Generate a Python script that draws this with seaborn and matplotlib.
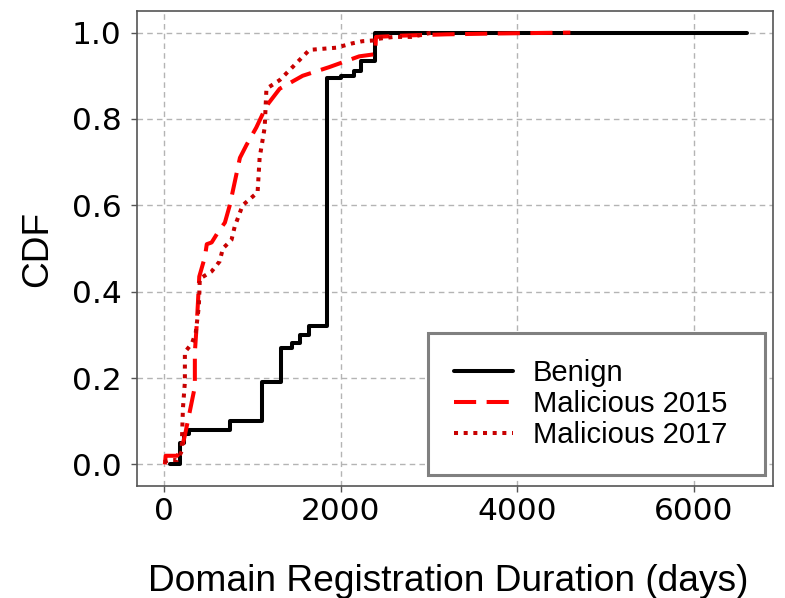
import matplotlib
matplotlib.use("Agg")
import matplotlib.pyplot as plt
import seaborn as sns

# CDF of domain registration duration (days) for each group
benign_days = [68, 180, 180, 230, 230, 285, 285, 745, 745, 1105, 1105, 1330, 1330,
               1450, 1535, 1535, 1647, 1647, 1850, 1850, 2000, 2150, 2233, 2233,
               2390, 2390, 6600]
benign_cdf = [0.0, 0.0, 0.05, 0.05, 0.07, 0.07, 0.08, 0.09, 0.10, 0.11, 0.19, 0.20,
              0.27, 0.28, 0.29, 0.30, 0.31, 0.32, 0.32, 0.895, 0.90, 0.91, 0.91, 0.935,
              0.94, 1.0, 1.0]

mal2015_days = [10, 20, 150, 190, 205, 240, 290, 350, 350, 370, 385, 400, 463, 485,
                540, 610, 690, 745, 860, 935, 1045, 1160, 1310, 1570, 1870, 2210,
                2390, 2400, 2700, 3200, 3800, 4600]
mal2015_cdf = [0.0, 0.02, 0.02, 0.03, 0.04, 0.07, 0.12, 0.18, 0.26, 0.32, 0.375, 0.435,
               0.48, 0.51, 0.514, 0.537, 0.56, 0.60, 0.71, 0.74, 0.78, 0.83, 0.87,
               0.90, 0.92, 0.945, 0.95, 0.99, 0.993, 0.996, 0.998, 1.0]

mal2017_days = [0, 60, 150, 200, 215, 237, 237, 316, 360, 395, 406, 540, 630, 667,
                765, 800, 890, 1060, 1083, 1140, 1160, 1310, 1455, 1647, 1950, 2130,
                2245, 2390, 2400, 2600, 2800, 3035]
mal2017_cdf = [0.005, 0.01, 0.01, 0.03, 0.13, 0.19, 0.26, 0.28, 0.305, 0.366, 0.43,
               0.447, 0.47, 0.50, 0.52, 0.55, 0.60, 0.63, 0.71, 0.78, 0.87, 0.89,
               0.92, 0.96, 0.965, 0.975, 0.98, 0.982, 0.985, 0.99, 0.99, 1.0]

series_labels = ["Benign", "Malicious 2015", "Malicious 2017"]

LABEL_FONT = ["Liberation Sans", "DejaVu Sans"]

sns.set_style("white")
plt.rcParams["font.family"] = ["DejaVu Sans"]
plt.rcParams["text.color"] = "black"
plt.rcParams["axes.labelcolor"] = "black"

fig = plt.figure(figsize=(7.85, 5.98), dpi=100)
ax = fig.add_axes([0.1745, 0.1873, 0.8102, 0.7943])

sns.lineplot(x=benign_days, y=benign_cdf, ax=ax, sort=False, estimator=None,
             color="black", linewidth=2.9, drawstyle="steps-post",
             label=series_labels[0], zorder=3)
sns.lineplot(x=mal2015_days, y=mal2015_cdf, ax=ax, sort=False, estimator=None,
             color="#ff0000", linewidth=2.9, linestyle=(0, (5.5, 2.6)),
             label=series_labels[1], zorder=4)
sns.lineplot(x=mal2017_days, y=mal2017_cdf, ax=ax, sort=False, estimator=None,
             color="#c80000", linewidth=2.9, linestyle=(0, (1.0, 1.4)),
             label=series_labels[2], zorder=5)

ax.set_xlim(-305, 6893)
ax.set_ylim(-0.05, 1.05)
ax.set_xticks([0, 2000, 4000, 6000])
ax.set_yticks([0.0, 0.2, 0.4, 0.6, 0.8, 1.0])
ax.set_yticklabels(["0.0", "0.2", "0.4", "0.6", "0.8", "1.0"])

ax.grid(True, linestyle=(0, (4, 3)), color="#b4b4b4", linewidth=1.0)
ax.set_axisbelow(True)

for s in ax.spines.values():
    s.set_color("#555555")
    s.set_linewidth(1.2)

ax.tick_params(axis="both", which="major", labelsize=22.5, length=4, width=1.0,
               color="#555555", direction="out", left=True, bottom=True,
               labelcolor="black")
ax.tick_params(axis="y", pad=7)
ax.tick_params(axis="x", pad=4)

ax.set_xlabel("Domain Registration Duration (days)", fontsize=26.7,
              family=LABEL_FONT, labelpad=27)
ax.xaxis.label.set_x(0.489)
ax.set_ylabel("CDF", fontsize=26.7, family=LABEL_FONT, labelpad=12)

# legend box stretched across a fixed region in the lower right
leg = ax.legend(loc="lower left", bbox_to_anchor=(0.4575, 0.023, 0.530, 0.30),
                mode="expand", borderaxespad=0,
                prop={"family": LABEL_FONT, "size": 21}, frameon=True,
                fancybox=False, framealpha=1, edgecolor="#808080",
                borderpad=0.9, labelspacing=0.1, handlelength=2.0,
                handletextpad=0.7)
leg.get_frame().set_linewidth(2.2)

fig.savefig("out.png", dpi=100)
